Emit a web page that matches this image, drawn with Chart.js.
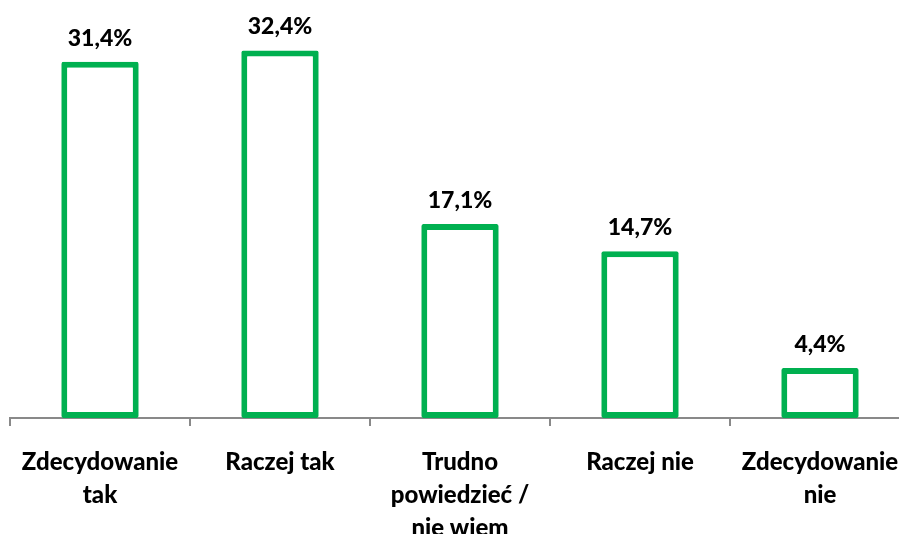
<!DOCTYPE html>
<html>
<head>
<meta charset="utf-8">
<script src="https://cdn.jsdelivr.net/npm/chart.js@4"></script>
<style>
  html, body { margin: 0; padding: 0; background: #fff; overflow: hidden; }
  #wrap { position: relative; width: 920px; height: 534px; }
</style>
</head>
<body>
<div id="wrap"><canvas id="chart"></canvas></div>
<script>
// kategorie i wartości (%)
const categories = [
  ['Zdecydowanie', 'tak'],
  'Raczej tak',
  ['Trudno', 'powiedzieć /', 'nie wiem'],
  'Raczej nie',
  ['Zdecydowanie', 'nie'],
];
const values = [31.4, 32.4, 17.1, 14.7, 4.4];

const GREEN = '#00B050';
const AXIS = '#898989';
const FONT = 'Lato, "Open Sans", sans-serif';

// etykiety wartości nad słupkami
const valueLabels = {
  id: 'valueLabels',
  afterDatasetsDraw(chart) {
    const { ctx } = chart;
    const meta = chart.getDatasetMeta(0);
    ctx.save();
    ctx.font = '900 23px ' + FONT;
    ctx.fillStyle = '#000';
    ctx.textAlign = 'center';
    ctx.textBaseline = 'alphabetic';
    meta.data.forEach((bar, i) => {
      const txt = values[i].toFixed(1).replace('.', ',') + '%';
      ctx.fillText(txt, bar.x, bar.y - 16);
    });
    ctx.restore();
  },
};

new Chart(document.getElementById('chart'), {
  type: 'bar',
  data: {
    labels: categories,
    datasets: [{
      data: values,
      backgroundColor: '#fff',
      borderColor: GREEN,
      borderWidth: 6,
      borderSkipped: false,
      borderRadius: 2,
      barPercentage: 0.43,
      categoryPercentage: 1,
    }],
  },
  options: {
    responsive: true,
    maintainAspectRatio: false,
    animation: false,
    layout: { padding: { left: 10, right: 10, top: 21, bottom: 0 } },
    plugins: {
      legend: { display: false },
      tooltip: { enabled: false },
    },
    scales: {
      x: {
        afterFit(scale) { scale.height = 116; },
        grid: {
          drawOnChartArea: false,
          drawTicks: true,
          tickLength: 8,
          color: AXIS,
          lineWidth: 2,
        },
        border: { display: true, color: AXIS, width: 2 },
        ticks: {
          color: '#000',
          padding: 20,
          maxRotation: 0,
          autoSkip: false,
          font: { family: FONT, size: 24, weight: '900', lineHeight: 1.375 },
        },
      },
      y: {
        display: false,
        min: 0,
        max: 35,
      },
    },
  },
  plugins: [valueLabels],
});
</script>
</body>
</html>
